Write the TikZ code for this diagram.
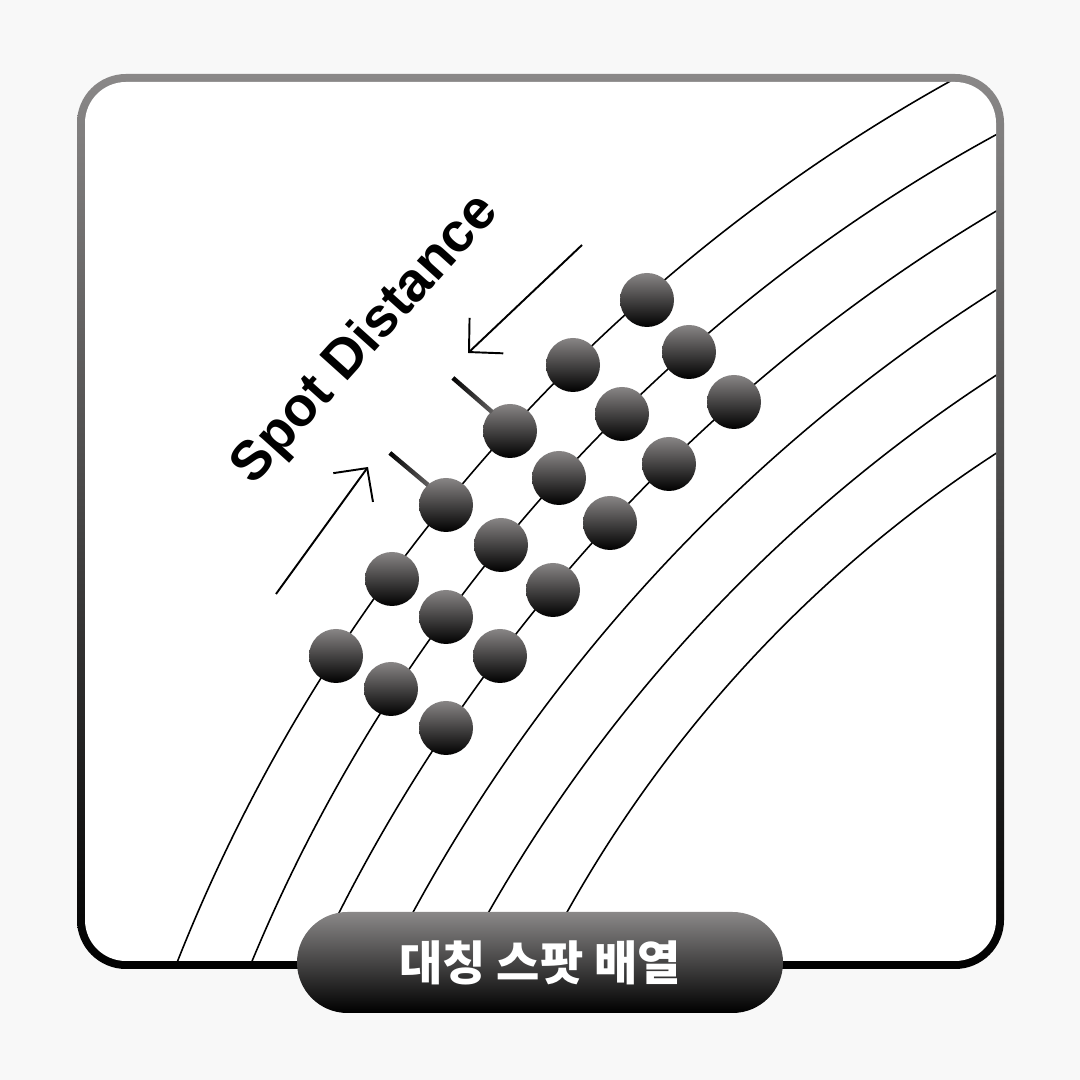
\documentclass[tikz,border=0pt]{standalone}
\usepackage{fontspec}
\setmainfont{Liberation Sans}
\newfontfamily\krfont{Noto Sans CJK KR}
\usetikzlibrary{arrows.meta}
\definecolor{bggray}{RGB}{248,248,248}
\definecolor{framegray}{RGB}{138,136,136}
\definecolor{spotgray}{RGB}{136,133,133}
\definecolor{tickgray}{RGB}{100,98,98}

\begin{document}
\begin{tikzpicture}[
  spot/.style={circle, minimum size=0.54cm, inner sep=0pt, top color=spotgray, bottom color=black},
  track/.style={line width=0.45pt},
  tick/.style={minimum width=0.52cm, minimum height=0.045cm, inner sep=0pt, left color=black, right color=tickgray},
  pointer/.style={line width=0.55pt, -{Straight Barb[length=2.4mm, width=4.9mm]}},
  pill/.style={rounded corners=0.505cm, minimum width=4.86cm, minimum height=1.01cm, top color=framegray, bottom color=black, text=white, font=\krfont\bfseries\fontsize{13.4}{16}\selectfont}
]
% Canvas
\fill[bggray] (0,0) rectangle (10.8,10.8);
\useasboundingbox (0,0) rectangle (10.8,10.8);

% Frame
\shade[top color=framegray, bottom color=black, rounded corners=0.49cm] (0.77,1.11) rectangle (10.04,10.06);
\fill[white, rounded corners=0.41cm] (0.85,1.19) rectangle (9.96,9.98);

% Tracks
\begin{scope}
\clip[rounded corners=0.41cm] (0.85,1.19) rectangle (9.96,9.98);
\draw[track] (17.94,-5.21) circle (17.38);
\draw[track] (17.94,-5.21) circle (16.69);
\draw[track] (18.68,-6.06) circle (17.13);
\draw[track] (18.953,-6.37) circle (16.863);
\draw[track] (18.421,-6.03) circle (15.573);
\draw[track] (17.062,-4.672) circle (13.04);
\end{scope}

% Spots, first track
\node[spot] (s11) at (3.36,4.24) {};
\node[spot] (s12) at (3.92,5.01) {};
\node[spot] (s13) at (4.46,5.75) {};
\node[spot] (s14) at (5.10,6.49) {};
\node[spot] (s15) at (5.73,7.15) {};
\node[spot] (s16) at (6.47,7.80) {};
% second track
\node[spot] (s21) at (3.91,3.91) {};
\node[spot] (s22) at (4.46,4.63) {};
\node[spot] (s23) at (5.01,5.35) {};
\node[spot] (s24) at (5.59,6.02) {};
\node[spot] (s25) at (6.22,6.66) {};
\node[spot] (s26) at (6.89,7.28) {};
% third track
\node[spot] (s31) at (4.46,3.52) {};
\node[spot] (s32) at (5.00,4.24) {};
\node[spot] (s33) at (5.53,4.90) {};
\node[spot] (s34) at (6.10,5.57) {};
\node[spot] (s35) at (6.69,6.16) {};
\node[spot] (s36) at (7.34,6.78) {};

% Distance marks
\node[tick, rotate=-41] (k1) at (4.725,6.85) {};
\node[tick, rotate=-40, minimum width=0.50cm] (k2) at (4.09,6.11) {};

% Arrows
\coordinate (a1) at (5.82,8.35);
\coordinate (a2) at (4.68,7.27);
\coordinate (b1) at (2.76,4.86);
\coordinate (b2) at (3.68,6.13);
\draw[pointer] (a1) -- (a2);
\draw[pointer] (b1) -- (b2);

% Labels
\node[rotate=48, font=\bfseries\fontsize{15.7}{17}\selectfont] (dist) at (3.66,7.40) {Spot Distance};
\node[pill] (title) at (5.40,1.175) {대칭 스팟 배열};
\end{tikzpicture}
\end{document}
